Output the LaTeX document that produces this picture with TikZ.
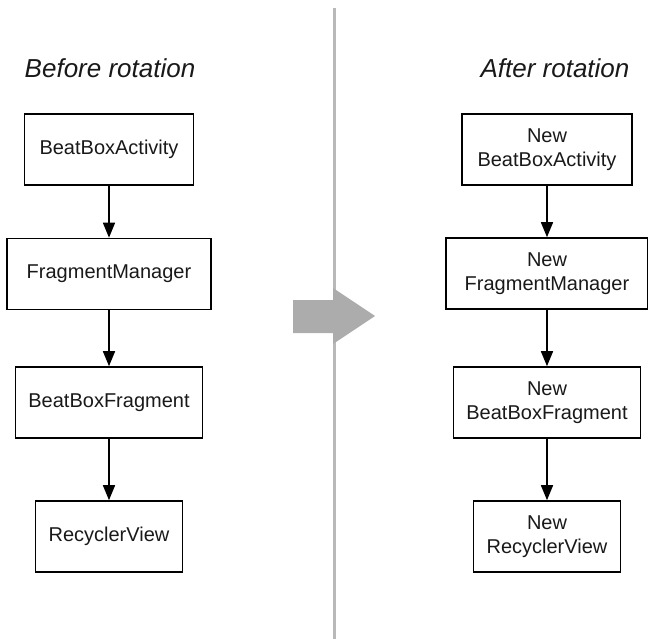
\documentclass[tikz,border=0pt]{standalone}
\usepackage{fontspec}
\setmainfont{Liberation Sans}
\usetikzlibrary{arrows.meta}
\tikzset{
  classbox/.style={
    rectangle, draw=black, line width=1.6pt,
    minimum width=#1, minimum height=71pt, inner sep=0pt,
    align=center, font=\fontsize{20}{24}\selectfont, text=black!90
  },
  flowarrow/.style={-{Triangle[width=12pt,length=15pt]}, line width=1.6pt},
  heading/.style={font=\fontsize{26}{30}\selectfont\itshape, text=black!90},
}

\begin{document}
\begin{tikzpicture}[x=1pt,y=-1pt]
      \useasboundingbox (0,0) rectangle (648,639);
      % divider and rotation arrow
      \draw[line width=3pt,gray!55](334,8)--(334,639);
      \fill[gray!65](293,300)--(333,300)--(333,288)--(375,316)--(333,344)
            --(333,333)--(293,333)--cycle;
      \node[heading,anchor=base](hb)at(110,78){Before rotation};
      \node[heading,anchor=base](ha)at(555,78){After rotation};
      % before
      \node[classbox=169pt](b1)at(109,149.5){BeatBoxActivity};
      \node[classbox=204pt](b2)at(109,274)  {FragmentManager};
      \node[classbox=187pt](b3)at(109,402.5){BeatBoxFragment};
      \node[classbox=147pt](b4)at(109,536.5){RecyclerView};
      % after
      \node[classbox=170pt](a1)at(547,149.5){New\\BeatBoxActivity};
      \node[classbox=202pt](a2)at(547,273.5){New\\FragmentManager};
      \node[classbox=187pt](a3)at(547,402.5){New\\BeatBoxFragment};
      \node[classbox=147pt](a4)at(547,536.5){New\\RecyclerView};
      \draw[flowarrow](b1.south)--(b2.north);
      \draw[flowarrow](b2.south)--(b3.north);
      \draw[flowarrow](b3.south)--(b4.north);
      \draw[flowarrow](a1.south)--(a2.north);
      \draw[flowarrow](a2.south)--(a3.north);
      \draw[flowarrow](a3.south)--(a4.north);
    \end{tikzpicture}
\end{document}
